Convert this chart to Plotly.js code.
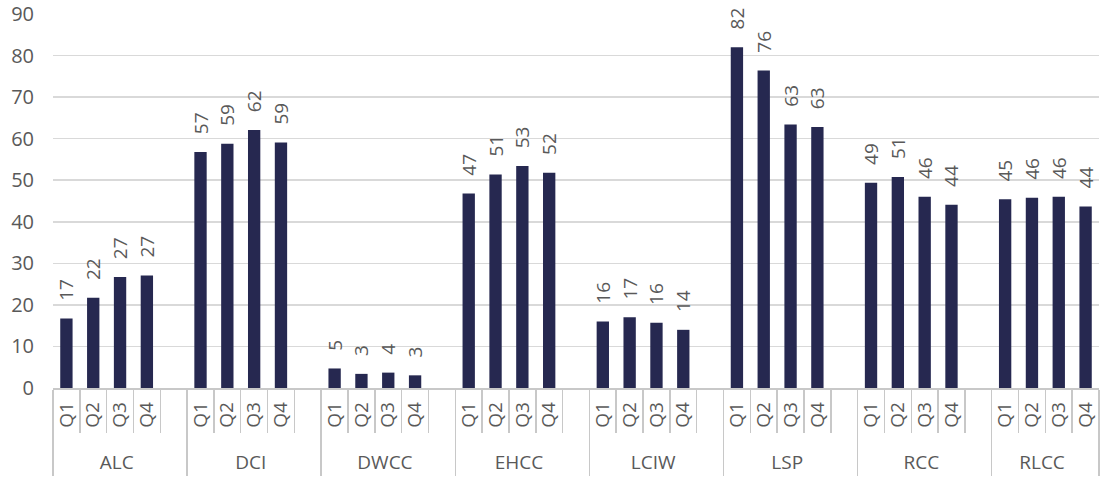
<!DOCTYPE html>
<html>
<head>
<meta charset="utf-8">
<script src="https://cdn.plot.ly/plotly-3.0.1.min.js"></script>
<style>
  html, body { margin: 0; padding: 0; background: #ffffff; }
  #chart { width: 1118px; height: 487px; }
</style>
</head>
<body>
<div id="chart"></div>
<script>
// ---- data ----
var groups   = ["ALC", "DCI", "DWCC", "EHCC", "LCIW", "LSP", "RCC", "RLCC"];
var quarters = ["Q1", "Q2", "Q3", "Q4"];
var ALC  = [16.7, 21.7, 26.7, 27.1];
var DCI  = [56.8, 58.8, 62.1, 59.1];
var DWCC = [4.7, 3.4, 3.7, 3.05];
var EHCC = [46.8, 51.4, 53.4, 51.8];
var LCIW = [16.0, 17.0, 15.7, 14.0];
var LSP  = [82.0, 76.4, 63.4, 62.8];
var RCC  = [49.4, 50.8, 46.0, 44.1];
var RLCC = [45.4, 45.8, 46.0, 43.7];
var yTicks = [0, 10, 20, 30, 40, 50, 60, 70, 80, 90];

var seriesByGroup = [ALC, DCI, DWCC, EHCC, LCIW, LSP, RCC, RLCC];

// build multicategory x arrays, with an empty spacer slot after every group except the last
// (quarter labels are padded with non-breaking spaces purely for spacing of the rotated labels)
var NB = "\u00a0";
var xOuter = [], xInner = [], yVals = [];
groups.forEach(function (g, gi) {
  quarters.forEach(function (q, qi) {
    xOuter.push(g); xInner.push(NB + q + NB); yVals.push(seriesByGroup[gi][qi]);
  });
  if (gi < groups.length - 1) {
    xOuter.push(g); xInner.push(" "); yVals.push(null);
  }
});

var FONT = "Open Sans, Noto Sans, sans-serif";
var TXT = "#595959";

var trace = {
  type: "bar",
  x: [xOuter, xInner],
  y: yVals,
  marker: { color: "#262850", line: { width: 0 } },
  texttemplate: NB + NB + NB + "%{y:.0f}",
  textposition: "outside",
  textangle: -90,
  constraintext: "none",
  cliponaxis: false,
  textfont: { family: FONT, size: 19, color: TXT },
  hoverinfo: "x+y"
};

var layout = {
  width: 1118,
  height: 487,
  margin: { l: 53, r: 19, t: 14, b: 99, pad: 0 },
  paper_bgcolor: "#ffffff",
  plot_bgcolor: "#ffffff",
  showlegend: false,
  bargap: 0.54,
  font: { family: FONT, color: TXT },
  xaxis: {
    type: "multicategory",
    automargin: false,
    tickson: "boundaries",
    ticks: "outside",
    ticklen: 43,
    tickwidth: 1.5,
    tickcolor: "#c8c8c8",
    tickangle: -90,
    showdividers: true,
    dividercolor: "#c8c8c8",
    dividerwidth: 1.5,
    showline: true,
    linecolor: "#c8c8c8",
    linewidth: 1.5,
    showgrid: false,
    tickfont: { family: FONT, size: 19, color: TXT }
  },
  yaxis: {
    range: [0, 90],
    tickvals: yTicks,
    ticktext: yTicks.map(String),
    ticks: "",
    ticklabelstandoff: 18,
    showgrid: true,
    gridcolor: "#d9d9d9",
    gridwidth: 1.5,
    zeroline: false,
    showline: false,
    automargin: false,
    tickfont: { family: FONT, size: 20, color: TXT }
  }
};

Plotly.newPlot("chart", [trace], layout, { displayModeBar: false, staticPlot: true });
</script>
</body>
</html>
